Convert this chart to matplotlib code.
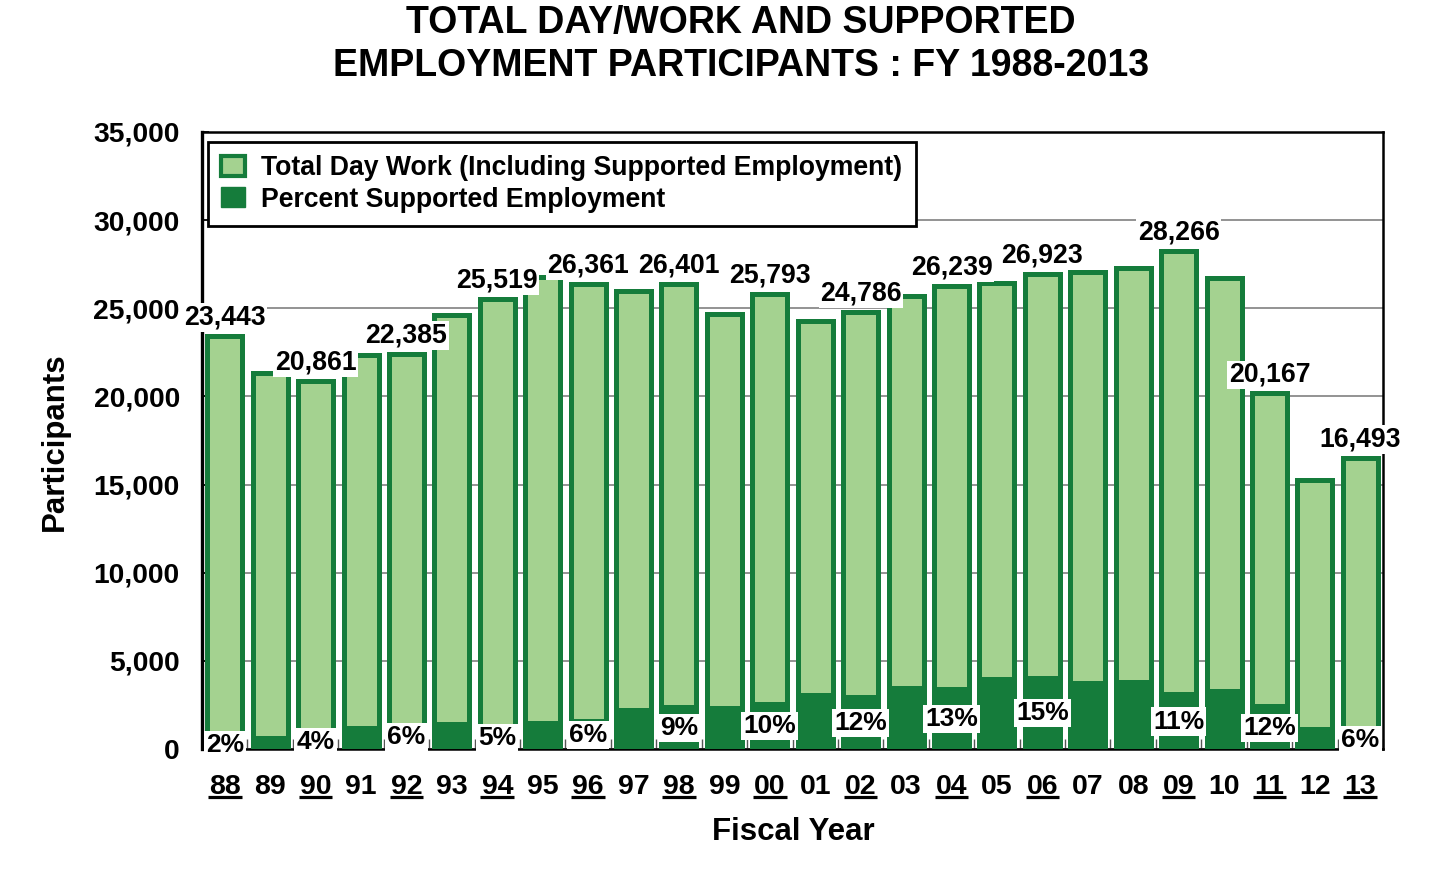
import numpy as np
import matplotlib
matplotlib.use('Agg')
import matplotlib.pyplot as plt
from matplotlib.patches import Patch

plt.rcParams['font.family'] = ['Liberation Sans', 'DejaVu Sans']
plt.rcParams['font.weight'] = 'bold'

# data
years = ['88', '89', '90', '91', '92', '93', '94', '95', '96', '97', '98', '99', '00',
         '01', '02', '03', '04', '05', '06', '07', '08', '09', '10', '11', '12', '13']
totals = [23443, 21320, 20861, 22350, 22385, 24600, 25519, 26780, 26361, 26000, 26401, 24700, 25793,
          24290, 24786, 25700, 26239, 26460, 26923, 27070, 27270, 28266, 26700, 20167, 15230, 16493]
pct_supported = [2, 3, 4, 5.2, 6, 5.7, 5, 5.4, 6, 8.4, 9, 9.3, 10,
                 12.5, 12, 13.4, 13, 14.9, 15, 13.9, 14, 11, 12.4, 12, 7.4, 6]
labeled = ['88', '90', '92', '94', '96', '98', '00', '02', '04', '06', '09', '11', '13']

LIGHT = '#a4d290'
DARK = '#157c3b'


def main():
    fig = plt.figure(figsize=(14.36, 8.8), dpi=100)
    ax = fig.add_axes([0.1407, 0.1489, 0.8224, 0.7011])

    x = np.arange(len(years))
    tot = np.array(totals)
    supp = tot * np.array(pct_supported) / 100.0

    ax.set_axisbelow(True)
    ax.yaxis.grid(True, color='#808080', linewidth=1.2)

    ax.bar(x, tot, width=0.77, color=LIGHT, edgecolor=DARK, linewidth=3.6, zorder=2)
    ax.bar(x, supp, width=0.77, color=DARK, edgecolor=DARK, linewidth=3.6, zorder=3)

    ax.set_xlim(-0.5, len(years) - 0.5)
    ax.set_ylim(0, 35000)
    ax.set_yticks(np.arange(0, 35001, 5000))
    ax.set_yticklabels([f'{v:,}' for v in range(0, 35001, 5000)])
    ax.tick_params(axis='y', direction='in', length=5, width=1.2, pad=16, labelsize=20.3)

    ax.set_xticks(x)
    ax.set_xticklabels(years)
    ax.set_xticks(np.arange(-0.5, len(years), 1.0), minor=True)
    ax.tick_params(axis='x', which='major', length=0, pad=18, labelsize=20.5)
    ax.tick_params(axis='x', which='minor', direction='in', length=7, width=1, color='#555555')

    for s in ax.spines.values():
        s.set_linewidth(1.8)
        s.set_color('black')
    ax.spines['left'].set_linewidth(2.4)

    # underline the labeled years and add value / percent labels
    trans = ax.get_xaxis_transform()
    for i, (yr, t, s, p) in enumerate(zip(years, totals, supp, pct_supported)):
        if yr not in labeled:
            continue
        ax.plot([i - 0.37, i + 0.37], [-0.078, -0.078], transform=trans,
                color='black', linewidth=2.3, clip_on=False, solid_capstyle='butt')
        ax.annotate(f'{t:,}', xy=(i, t), xytext=(0, 4), textcoords='offset points',
                    ha='center', va='bottom', fontsize=19.2, fontweight='bold', zorder=5,
                    bbox=dict(facecolor='white', edgecolor='none', pad=1))
        ax.text(i, s / 2, f'{p:.0f}%', ha='center', va='center', fontsize=19,
                fontweight='bold', zorder=5, clip_on=False,
                bbox=dict(facecolor='white', edgecolor='none', pad=1.5))

    handles = [Patch(facecolor=LIGHT, edgecolor=DARK, linewidth=3),
               Patch(facecolor=DARK, edgecolor=DARK)]
    leg = ax.legend(handles, ['Total Day Work (Including Supported Employment)',
                              'Percent Supported Employment'],
                    loc='upper left', bbox_to_anchor=(0.005, 0.984), borderaxespad=0,
                    fontsize=19.2, handlelength=0.9, handleheight=0.75, handletextpad=0.6,
                    labelspacing=0.2, borderpad=0.5, fancybox=False, framealpha=1)
    leg.get_frame().set_edgecolor('black')
    leg.get_frame().set_linewidth(2)
    leg.set_zorder(6)

    fig.text(0.516, 1 - 33 / 880, 'TOTAL DAY/WORK AND SUPPORTED', ha='center', va='baseline',
             fontsize=27, fontweight='bold')
    fig.text(0.516, 1 - 76 / 880, 'EMPLOYMENT PARTICIPANTS : FY 1988-2013', ha='center',
             va='baseline', fontsize=27, fontweight='bold')
    fig.text(55 / 1436, 1 - 442 / 880, 'Participants', rotation=90, ha='center', va='center',
             fontsize=22.5, fontweight='bold')
    fig.text(793 / 1436, 1 - 832 / 880, 'Fiscal Year', ha='center', va='center',
             fontsize=22.5, fontweight='bold')

    fig.savefig('out.png', dpi=100, facecolor='white')


if __name__ == '__main__':
    main()
